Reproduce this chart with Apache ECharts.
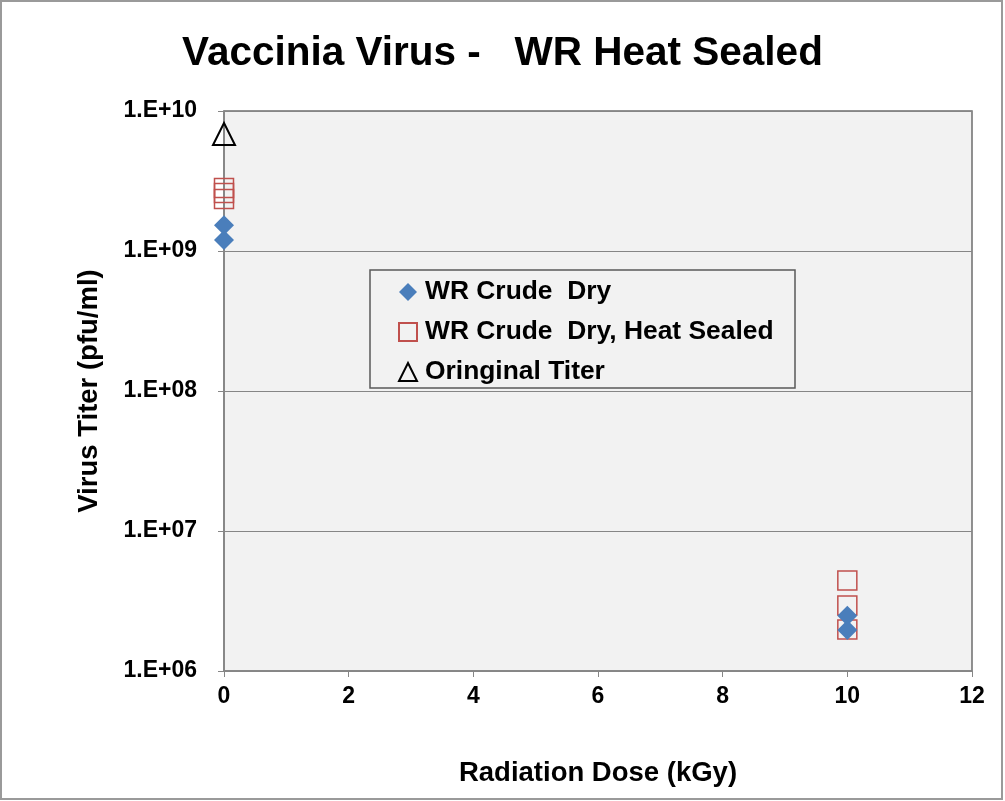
<!DOCTYPE html>
<html>
<head>
<meta charset="utf-8">
<script src="https://cdn.jsdelivr.net/npm/echarts@6/dist/echarts.min.js"></script>
<style>
html,body{margin:0;padding:0;background:#fff;}
#c{width:1005px;height:801px;}
</style>
</head>
<body>
<div id="c"></div>
<script>
// ---- data ----
var titleText = 'Vaccinia Virus -   WR Heat Sealed';
var xAxisTitle = 'Radiation Dose (kGy)';
var yAxisTitle = 'Virus Titer (pfu/ml)';
var seriesNames = ['WR Crude  Dry', 'WR Crude  Dry, Heat Sealed', 'Oringinal Titer'];
var dryDose = [0, 0, 10, 10];
var dryTiter = [1.53e9, 1.2e9, 2.48e6, 1.96e6];
var sealedDose = [0, 0, 0, 10, 10, 10];
var sealedTiter = [2.82e9, 2.6e9, 2.35e9, 4.43e6, 2.94e6, 1.98e6];
var origDose = [0];
var origTiter = [6.85e9];
var xTicks = [0, 2, 4, 6, 8, 10, 12];
var yTicks = [1e6, 1e7, 1e8, 1e9, 1e10];
var yTickLabels = ['1.E+06', '1.E+07', '1.E+08', '1.E+09', '1.E+10'];

function pairs(xs, ys) { return xs.map(function (x, i) { return [x, ys[i]]; }); }

var FONT = '"Liberation Sans", Arial, sans-serif';
var chart = echarts.init(document.getElementById('c'), null, { renderer: 'canvas' });
chart.setOption({
  animation: false,
  backgroundColor: '#ffffff',
  title: {
    text: titleText, left: 'center', top: 28,
    textStyle: { fontFamily: FONT, fontWeight: 'bold', fontSize: 40.5, color: '#000' }
  },
  graphic: [
    { type: 'rect', z: 100, silent: true, shape: { x: 1, y: 1, width: 1001, height: 798 },
      style: { fill: 'none', stroke: '#9a9a9a', lineWidth: 2 } },
    { type: 'rect', z: 3, silent: true, shape: { x: 370, y: 270, width: 425, height: 118 },
      style: { fill: '#f2f2f2', stroke: '#5a5a5a', lineWidth: 1.5 } }
  ],
  grid: {
    left: 224, right: 33, top: 111, bottom: 130, show: true,
    backgroundColor: '#f2f2f2', borderColor: '#6e6e6e', borderWidth: 1.5
  },
  legend: {
    orient: 'vertical', left: 393, top: 274, z: 10,
    itemWidth: 18, itemHeight: 18, itemGap: 14,
    data: seriesNames,
    textStyle: { fontFamily: FONT, fontWeight: 'bold', fontSize: 26.4, color: '#000', padding: [0, 0, 0, 3] }
  },
  xAxis: {
    type: 'value', min: xTicks[0], max: xTicks[xTicks.length - 1], interval: 2,
    name: xAxisTitle, nameLocation: 'middle', nameGap: 88,
    nameTextStyle: { fontFamily: FONT, fontWeight: 'bold', fontSize: 27.5, color: '#000' },
    axisLine: { lineStyle: { color: '#868686', width: 1.5 } },
    axisTick: { show: true, length: 6, lineStyle: { color: '#868686' } },
    axisLabel: { margin: 14, fontFamily: FONT, fontWeight: 'bold', fontSize: 23, color: '#000' },
    splitLine: { show: false }
  },
  yAxis: {
    type: 'log', logBase: 10, min: yTicks[0], max: yTicks[yTicks.length - 1],
    name: yAxisTitle, nameLocation: 'middle', nameGap: 121, nameRotate: 90,
    nameTextStyle: { fontFamily: FONT, fontWeight: 'bold', fontSize: 27.5, color: '#000' },
    axisLine: { show: true, lineStyle: { color: '#868686', width: 1.5 } },
    axisTick: { show: true, length: 6, lineStyle: { color: '#868686' } },
    axisLabel: {
      margin: 27, fontFamily: FONT, fontWeight: 'bold', fontSize: 23, color: '#000',
      formatter: function (v) {
        var idx = yTicks.findIndex(function (t) { return Math.abs(Math.log10(t) - Math.log10(v)) < 1e-6; });
        return idx >= 0 ? yTickLabels[idx] : '';
      }
    },
    splitLine: { show: true, lineStyle: { color: '#868686', width: 1 } }
  },
  series: [
    {
      name: seriesNames[0], type: 'scatter', symbol: 'diamond', symbolSize: 20, z: 4,
      itemStyle: { color: '#4a7ebb', opacity: 1 },
      data: pairs(dryDose, dryTiter)
    },
    {
      name: seriesNames[1], type: 'scatter', symbol: 'rect', symbolSize: 19, z: 3,
      itemStyle: { color: 'rgba(0,0,0,0)', borderColor: '#c0504d', borderWidth: 1.5, opacity: 1 },
      data: pairs(sealedDose, sealedTiter)
    },
    {
      name: seriesNames[2], type: 'scatter', symbol: 'triangle', symbolSize: 22, z: 3,
      itemStyle: { color: 'rgba(0,0,0,0)', borderColor: '#000', borderWidth: 2, opacity: 1 },
      data: pairs(origDose, origTiter)
    }
  ]
});
</script>
</body>
</html>
